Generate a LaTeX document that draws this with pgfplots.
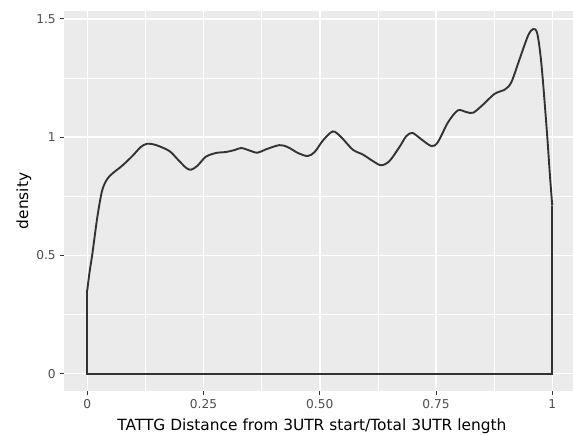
\documentclass[border=0pt]{standalone}
\usepackage{pgfplots}
\pgfplotsset{compat=1.18}
\usepackage{fontspec}
\setmainfont{DejaVu Sans}
\definecolor{panelbg}{HTML}{EBEBEB}
\definecolor{ticklab}{HTML}{4D4D4D}
\definecolor{tickcol}{HTML}{333333}
\definecolor{curvecol}{HTML}{333333}
\begin{document}
\begin{tikzpicture}
\useasboundingbox (0,0) rectangle (573pt,435pt);
\begin{axis}[
  at={(64pt,44pt)}, anchor=south west,
  scale only axis, width=509pt, height=380pt,
  xmin=-0.05, xmax=1.0446, ymin=-0.073, ymax=1.533,
  axis background/.style={fill=panelbg},
  axis line style={draw=none},
  xtick={0,0.25,0.5,0.75,1}, xticklabels={0,0.25,0.50,0.75,1},
  ytick={0,0.5,1,1.5}, yticklabels={0,0.5,1,1.5},
  minor xtick={0.125,0.375,0.625,0.875},
  minor ytick={0.25,0.75,1.25},
  xtick pos=bottom, ytick pos=left,
  tick align=outside,
  major tick length=3.8pt, minor tick length=0pt,
  every tick/.style={tickcol, line width=1pt},
  grid=both,
  major grid style={white, line width=1.5pt},
  minor grid style={white, line width=0.75pt},
  /pgf/number format/assume math mode=true,
  ticklabel style={font=\fontsize{12.2}{14}\selectfont, text=ticklab},
  xticklabel style={yshift=-1pt},
  yticklabel style={xshift=-1pt},
  xlabel={TATTG Distance from 3UTR start/Total 3UTR length},
  ylabel={density},
  label style={font=\fontsize{15.4}{18}\selectfont, text=black},
  xlabel style={at={(axis description cs:0.487,-0.105)}, anchor=base},
  ylabel style={at={(axis description cs:-0.0786,0.5)}, anchor=center, rotate=0},
]
\addplot[curvecol, line width=1.9pt, smooth, tension=0.5] coordinates {
(0,0.352) (0.005,0.43) (0.011,0.507) (0.0216,0.661) (0.032,0.774) (0.043,0.823)
(0.054,0.846) (0.075,0.879) (0.097,0.92) (0.115,0.958) (0.129,0.972) (0.147,0.967)
(0.176,0.942) (0.194,0.907) (0.212,0.871) (0.223,0.862) (0.237,0.879) (0.255,0.917)
(0.277,0.933) (0.298,0.937) (0.318,0.946) (0.331,0.954) (0.348,0.944) (0.366,0.934)
(0.384,0.948) (0.413,0.966) (0.431,0.958) (0.453,0.933) (0.474,0.92) (0.489,0.937)
(0.507,0.986) (0.528,1.024) (0.546,1.0) (0.571,0.947) (0.593,0.926) (0.614,0.899)
(0.632,0.881) (0.650,0.899) (0.672,0.960) (0.686,1.004) (0.699,1.018) (0.715,0.996)
(0.740,0.962) (0.754,0.979) (0.776,1.063) (0.797,1.113) (0.815,1.106) (0.830,1.103)
(0.851,1.137) (0.876,1.183) (0.898,1.201) (0.912,1.232) (0.930,1.331) (0.948,1.429)
(0.959,1.457) (0.968,1.436) (0.977,1.302) (0.988,1.035) (0.995,0.838) (1.0,0.71)
};
\addplot[curvecol, line width=1.9pt, line join=miter] coordinates {
(0,0.352) (0,0) (1,0) (1,0.71)
};
\end{axis}
\end{tikzpicture}
\end{document}
